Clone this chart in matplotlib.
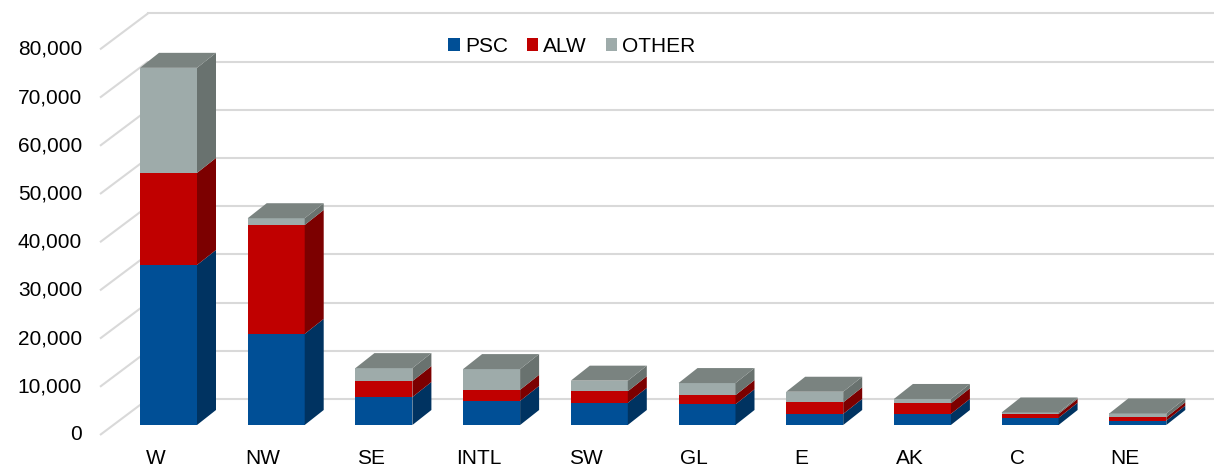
import matplotlib.pyplot as plt
from matplotlib.patches import Polygon, Patch

plt.rcParams['font.family'] = ['Liberation Sans', 'DejaVu Sans']

regions = ["W", "NW", "SE", "INTL", "SW", "GL", "E", "AK", "C", "NE"]
psc = [33200, 18900, 5800, 5000, 4600, 4300, 2300, 2300, 1500, 900]
alw = [19100, 22600, 3300, 2300, 2400, 1900, 2400, 2200, 800, 700]
other = [21800, 1400, 2700, 4300, 2200, 2500, 2200, 900, 300, 800]
series = ["PSC", "ALW", "OTHER"]
yticks = list(range(0, 80001, 10000))

front_col = ["#004f96", "#c00000", "#9eabaa"]
side_col = ["#003361", "#7c0000", "#69726f"]
top_col = "#7a8380"
grid_col = "#d9d9d9"

# pixel layout of the picture (oblique 3D look)
W, H = 1214, 470
base_px = 425      # bar bottom, measured from top
x0_px = 168.5      # centre of first bar front
step_px = 107.7
px_per_unit = 48.2 / 10000

fig = plt.figure(figsize=(W / 100, H / 100), dpi=100)
ax = fig.add_axes([0, 0, 1, 1])
ax.set_xlim(-x0_px / step_px, (W - x0_px) / step_px)
ax.set_ylim(-(H - base_px) / px_per_unit, base_px / px_per_unit)
ax.axis('off')


def dx(px):
    return px / step_px


def dy(px):
    return px / px_per_unit


# depth offsets in pixels
bar_d = (19, 15)
front = (-13, -10)
back = (35, 26)
wall_x = dx(113 - x0_px)

# walls
for v in yticks:
    xb, yb = wall_x + dx(back[0]), v + dy(back[1])
    xf, yf = wall_x + dx(front[0]), v + dy(front[1])
    ax.plot([xf, xb], [yf, yb], color=grid_col, lw=1.5, zorder=1,
            solid_capstyle='butt')
    ax.plot([xb, ax.get_xlim()[1]], [yb, yb], color=grid_col, lw=1.5, zorder=1)
    ax.text(xf - dx(18), yf, f"{v:,}", ha='right', va='center', fontsize=15)

# bars
width = 57 / step_px
stacks = [psc, alw, other]
for i in range(len(regions)):
    bottom = 0
    xl, xr = i - width / 2, i + width / 2
    for k, vals in enumerate(stacks):
        v = vals[i]
        ax.bar(i, v, width=width, bottom=bottom, color=front_col[k],
               linewidth=0, zorder=3)
        side = [(xr, bottom), (xr, bottom + v),
                (xr + dx(bar_d[0]), bottom + v + dy(bar_d[1])),
                (xr + dx(bar_d[0]), bottom + dy(bar_d[1]))]
        ax.add_patch(Polygon(side, closed=True, facecolor=side_col[k],
                             edgecolor='none', zorder=3))
        bottom += v
    top = [(xl, bottom), (xr, bottom),
           (xr + dx(bar_d[0]), bottom + dy(bar_d[1])),
           (xl + dx(bar_d[0]), bottom + dy(bar_d[1]))]
    ax.add_patch(Polygon(top, closed=True, facecolor=top_col,
                         edgecolor='none', zorder=3))
    ax.text(i + dx(front[0]), dy(-33), regions[i], ha='center', va='center',
            fontsize=15)

handles = [Patch(facecolor=c, edgecolor='none', label=s)
           for c, s in zip(front_col, series)]
ax.legend(handles=handles, ncol=3, loc='center', frameon=False,
          bbox_to_anchor=(572 / W, 1 - 46.5 / H), bbox_transform=fig.transFigure,
          fontsize=15, handlelength=0.55, handleheight=0.55,
          handletextpad=0.25, columnspacing=0.9, borderpad=0)

fig.savefig("out.png", dpi=100, facecolor='white')
